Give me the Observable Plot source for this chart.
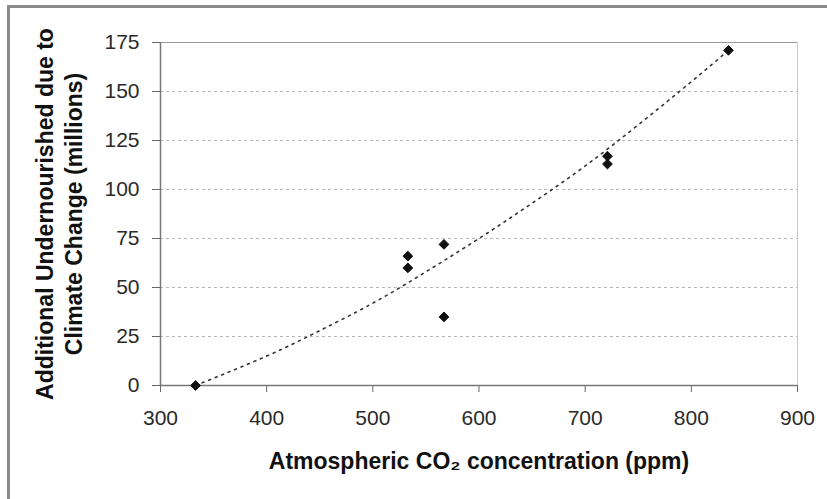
<!DOCTYPE html>
<html>
<head>
<meta charset="utf-8">
<script src="https://cdn.jsdelivr.net/npm/d3@7"></script>
<script src="https://cdn.jsdelivr.net/npm/@observablehq/plot@0.6"></script>
<style>
  html, body { margin: 0; padding: 0; background: #fff; width: 827px; height: 499px; overflow: hidden; }
  #chart { position: absolute; left: 0; top: 0; }
  #frame { position: absolute; left: 7px; top: 5px; width: 900px; height: 600px;
           border-left: 3px solid #8a8a8a; border-top: 3px solid #8a8a8a; pointer-events: none; }
</style>
</head>
<body>
<div id="chart"></div>
<div id="frame"></div>
<script>
// Scenario points: atmospheric CO2 (ppm) vs additional undernourished (millions)
const co2 = [333, 533, 533, 567, 567, 721, 721, 835];
const undernourished = [0, 66, 60, 72, 35, 117, 113, 171];

// Dotted trend line
const trendCo2 = [333, 400, 450, 500, 550, 600, 650, 700, 750, 800, 835];
const trendValue = [0, 15, 28, 42, 58, 75, 93, 112, 133, 155, 171];

const xTicks = [300, 400, 500, 600, 700, 800, 900];
const yTicks = [0, 25, 50, 75, 100, 125, 150, 175];
const yGridTicks = [25, 50, 75, 100, 125, 150];

const yLabel = "Additional Undernourished due to\nClimate Change (millions)";
const xLabel = "Atmospheric CO\u2082 concentration (ppm)";

const points = co2.map((c, i) => ({co2: c, value: undernourished[i]}));
const trend = trendCo2.map((c, i) => ({co2: c, value: trendValue[i]}));

const font = "Arial, 'Liberation Sans', Helvetica, sans-serif";

const chart = Plot.plot({
  width: 827,
  height: 499,
  marginLeft: 160,
  marginRight: 30,
  marginTop: 42,
  marginBottom: 114,
  style: { fontFamily: font, fontSize: "21px", color: "#222", background: "transparent" },
  x: { domain: [300, 900], ticks: xTicks },
  y: { domain: [0, 175], ticks: yTicks },
  marks: [
    Plot.gridY(yGridTicks, { stroke: "#999", strokeOpacity: 0.7, strokeDasharray: "3,3", strokeWidth: 1 }),
    Plot.ruleY([175], { stroke: "#999", strokeWidth: 1.2 }),
    Plot.ruleX([900], { stroke: "#ccc", strokeWidth: 1 }),
    Plot.axisX(xTicks, { tickSize: 7, tickPadding: 18, stroke: "#666", fill: "#2a2a2a", fontSize: 21, label: null }),
    Plot.axisY(yTicks, { tickSize: 8, tickPadding: 13, stroke: "#666", fill: "#2a2a2a", fontSize: 21, label: null }),
    Plot.ruleX([300], { stroke: "#777", strokeWidth: 1.5 }),
    Plot.ruleY([0], { stroke: "#777", strokeWidth: 1.5 }),
    Plot.line(trend, { x: "co2", y: "value", stroke: "#333", strokeWidth: 1.6, strokeDasharray: "2,5", curve: "natural" }),
    Plot.dot(points, { x: "co2", y: "value", symbol: "diamond2", r: 4.4, fill: "#111", stroke: "#111", strokeWidth: 1 }),
    Plot.text([yLabel], { frameAnchor: "left", rotate: -90, dx: -102, textAnchor: "middle", lineAnchor: "middle",
      lineHeight: 1.27, fontSize: 23, fontWeight: "bold", fill: "#111" }),
    Plot.text([xLabel], { frameAnchor: "bottom", dy: 76, textAnchor: "middle", lineAnchor: "middle",
      fontSize: 23, fontWeight: "bold", fill: "#111" })
  ]
});
document.getElementById("chart").appendChild(chart);
</script>
</body>
</html>
